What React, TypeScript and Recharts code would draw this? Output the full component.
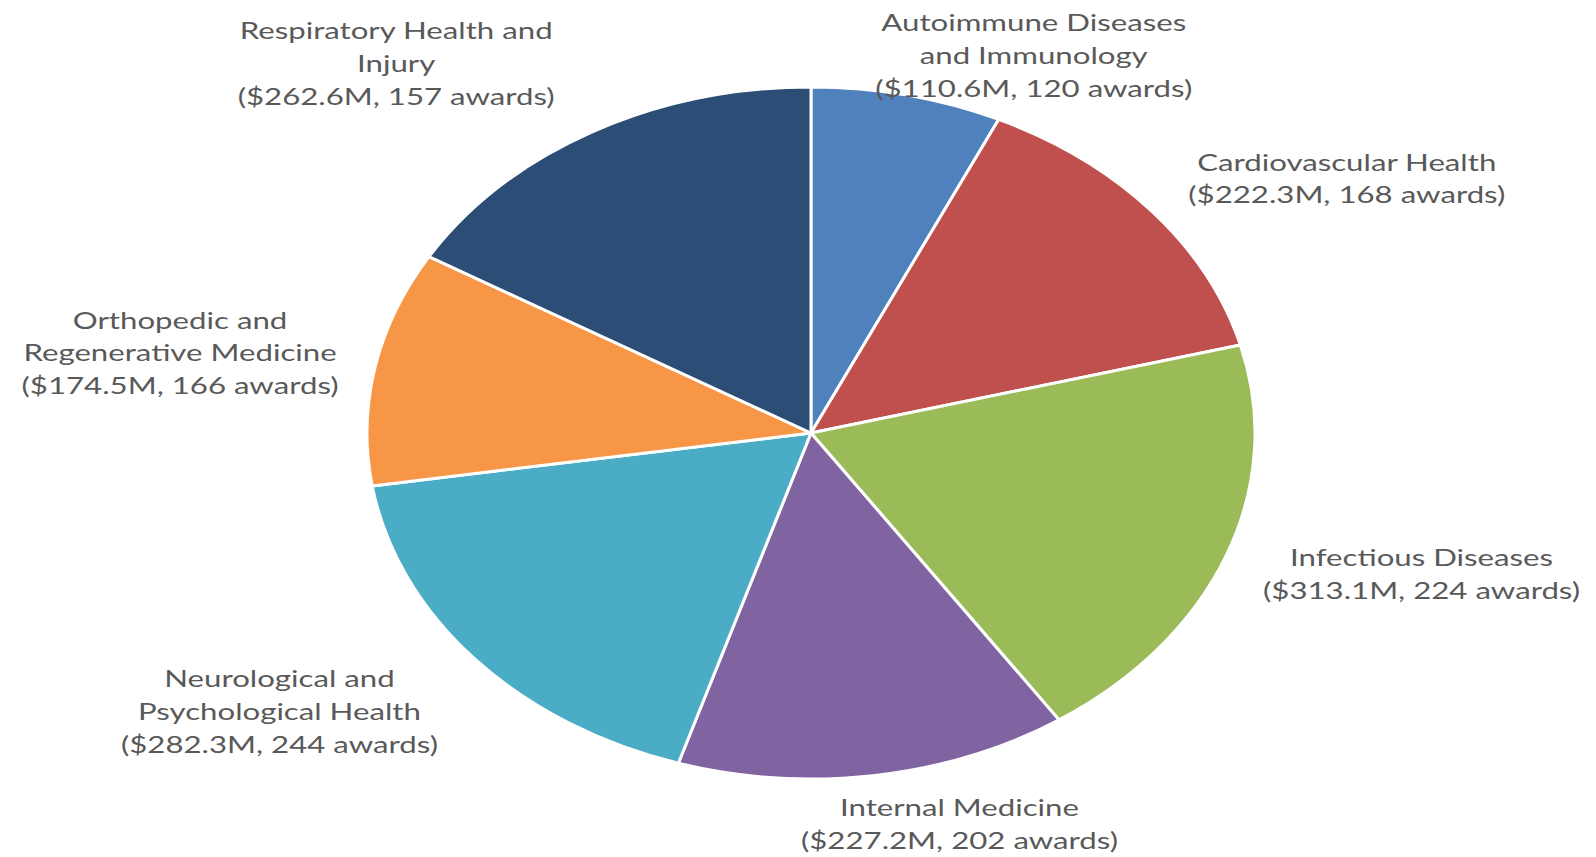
import { PieChart, Pie, Cell } from "recharts";

const categories = [
    "Autoimmune Diseases\nand Immunology",
    "Cardiovascular Health",
    "Infectious Diseases",
    "Internal Medicine",
    "Neurological and\nPsychological Health",
    "Orthopedic and\nRegenerative Medicine",
    "Respiratory Health and\nInjury",
];
const amounts = [110.6, 222.3, 313.1, 227.2, 282.3, 174.5, 262.6];
const awards = [120, 168, 224, 202, 244, 166, 157];

const COLORS = ["#4F81BD", "#C0504D", "#9BBB59", "#8064A2", "#4BACC6", "#F79646", "#2C4D75"];

const chartData = categories.map((name, i) => ({
    name,
    value: amounts[i],
    awards: awards[i],
}));

// the reference pie is stretched sideways
const RY = 346;
const RX = 444;
const SX = RX / RY;
const RAD = Math.PI / 180;
const LINE_H = 32.6;
const TEXT_SCALE = 1.3;
const H = 857;

const EllipseSector = (props: any) => {
    const { cx, cy, outerRadius, startAngle, endAngle, fill } = props;
    const rx = outerRadius * SX;
    const ry = outerRadius;
    const x1 = cx + rx * Math.cos(startAngle * RAD);
    const y1 = cy - ry * Math.sin(startAngle * RAD);
    const x2 = cx + rx * Math.cos(endAngle * RAD);
    const y2 = cy - ry * Math.sin(endAngle * RAD);
    const delta = endAngle - startAngle;
    const large = Math.abs(delta) > 180 ? 1 : 0;
    const sweep = delta < 0 ? 1 : 0;
    return (
        <path
            d={`M${cx},${cy} L${x1},${y1} A${rx},${ry} 0 ${large} ${sweep} ${x2},${y2} Z`}
            fill={fill}
            stroke="#ffffff"
            strokeWidth={3}
            strokeLinejoin="round"
        />
    );
};

const renderLabel = (props: any) => {
    const { cx, cy, outerRadius, midAngle, payload, index } = props;
    const ux = Math.cos(midAngle * RAD);
    const uy = -Math.sin(midAngle * RAD);
    const ex = cx + outerRadius * SX * ux;
    const ey = cy + outerRadius * uy;
    const lines = [...categories[index].split("\n"), `($${amounts[index]}M, ${payload?.awards ?? awards[index]} awards)`];
    const lx = ex + Math.sign(ux) * Math.min(Math.abs(ux) * 3, 1) * 195;
    let ly = ey + uy * (lines.length > 2 ? 80 : 52);
    const half = (lines.length * LINE_H) / 2;
    // keep labels inside the chart area
    if (ly - half < 6) ly = 6 + half;
    if (ly + half > H - 1) ly = H - 1 - half;
    const top = ly - half + LINE_H / 2;
    return (
        <g key={`lbl-${index}`}>
            {lines.map((t, i) => (
                <text
                    key={i}
                    transform={`translate(${lx},${top + i * LINE_H}) scale(${TEXT_SCALE},1)`}
                    textAnchor="middle"
                    dominantBaseline="central"
                    fill="#595959"
                    fontSize={24}
                    fontFamily="Lato, 'Open Sans', sans-serif"
                >
                    {t}
                </text>
            ))}
        </g>
    );
};

const App = () => {
    return (
        <div style={{ position: "absolute", top: 0, left: 0, background: "#ffffff", width: 1596, height: H }}>
            <PieChart width={1596} height={H} margin={{ top: 0, right: 0, bottom: 0, left: 0 }}>
                <Pie
                    data={chartData}
                    cx={811}
                    cy={433}
                    innerRadius={0}
                    outerRadius={RY}
                    startAngle={90}
                    endAngle={-270}
                    dataKey="value"
                    stroke="#ffffff"
                    strokeWidth={3}
                    shape={EllipseSector}
                    activeShape={EllipseSector}
                    inactiveShape={EllipseSector}
                    label={renderLabel}
                    labelLine={false}
                    isAnimationActive={false}
                >
                    {chartData.map((_, index) => (
                        <Cell key={`cell-${index}`} fill={COLORS[index]} />
                    ))}
                </Pie>
            </PieChart>
        </div>
    );
};

export default App;
